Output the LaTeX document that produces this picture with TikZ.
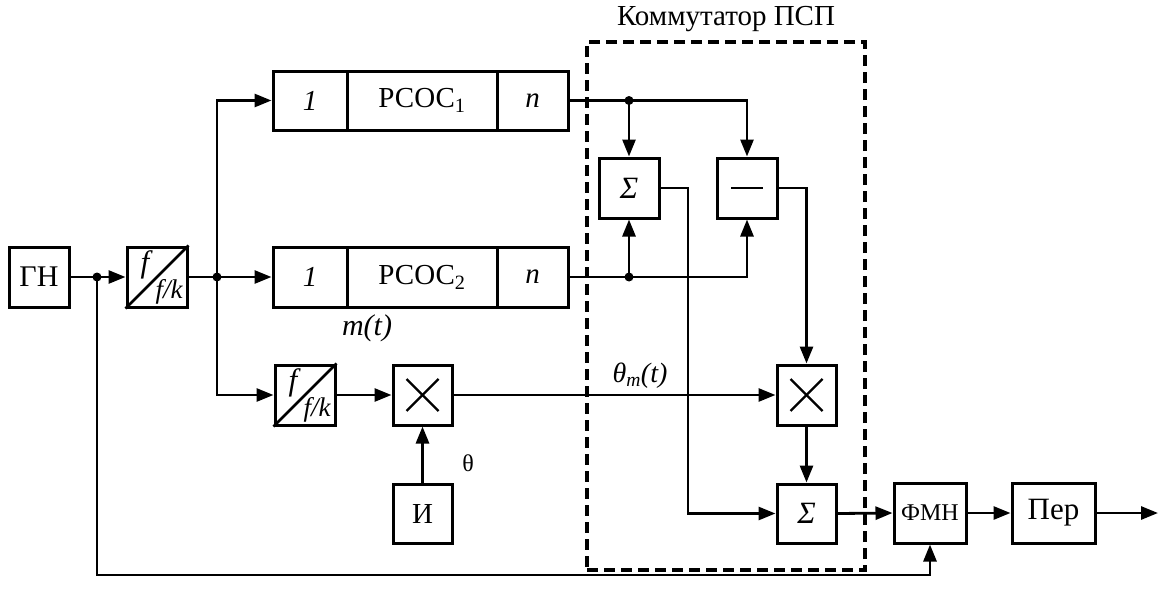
\documentclass[tikz,border=0pt]{standalone}
\usepackage{fontspec}
\setmainfont{Liberation Serif}
\usetikzlibrary{arrows.meta}
\tikzset{
  ln/.style={line width=2.8pt},
  arr/.style={ln,-{Triangle[length=17pt,width=13pt]}},
  blk/.style={draw,line width=3pt,inner sep=0pt,font=\fontsize{29}{32}\selectfont},
  sq/.style={blk,minimum width=60pt,minimum height=60pt},
  dot/.style={circle,fill=black,inner sep=0pt,minimum size=9pt},
}
\begin{document}
\begin{tikzpicture}[x=1pt,y=-1pt]
\useasboundingbox (0,0) rectangle (1161,602);
% dashed commutator frame
\node[draw,line width=3.6pt,dash pattern=on 11pt off 6pt,minimum width=278pt,minimum height=528pt,inner sep=0pt] (frame) at (726,306) {};
\node[font=\fontsize{29}{32}\selectfont] (title) at (726,19) {Коммутатор ПСП};
% blocks
\node[sq,font=\fontsize{30}{32}\selectfont] (gn) at (39,277) {ГН};
\node[sq] (div1) at (157,277) {};
\node[blk,minimum width=74pt,minimum height=59pt] (r1a) at (310,100.5) {\itshape 1};
\node[blk,minimum width=150pt,minimum height=59pt] (r1b) at (422,100.5) {РСОС\textsubscript{1}};
\node[blk,minimum width=71pt,minimum height=59pt] (r1c) at (532.5,100.5) {\itshape n};
\node[blk,minimum width=74pt,minimum height=60pt] (r2a) at (310,277) {\itshape 1};
\node[blk,minimum width=150pt,minimum height=60pt] (r2b) at (422,277) {РСОС\textsubscript{2}};
\node[blk,minimum width=71pt,minimum height=60pt] (r2c) at (532.5,277) {\itshape n};
\node[sq,font=\fontsize{31}{32}\selectfont] (s1) at (629,188) {\itshape Σ};
\node[sq] (mn) at (747,188) {};
\node[sq,minimum width=59pt] (mx2) at (806.5,395) {};
\node[sq,minimum width=59pt,minimum height=59pt,font=\fontsize{31}{32}\selectfont] (s2) at (806.5,513.5) {\itshape Σ};
\node[sq] (div2) at (305,395) {};
\node[sq,minimum width=59pt] (mx1) at (422.5,395) {};
\node[sq,minimum width=59pt,minimum height=59pt] (ii) at (422.5,513.5) {И};
\node[blk,minimum width=72pt,minimum height=60pt,font=\fontsize{24}{28}\selectfont] (fmn) at (930,513) {ФМН};
\node[blk,minimum width=83pt,minimum height=60pt,font=\fontsize{31}{32}\selectfont] (per) at (1053.5,513) {Пер};
% divider internals
\foreach \d in {div1,div2}{
  \draw[ln] (\d.south west) -- (\d.north east);
  \node[font=\fontsize{31}{32}\selectfont\itshape] at ([xshift=-12pt,yshift=12pt]\d.center) {f};
  \node[font=\fontsize{27}{30}\selectfont\itshape] at ([xshift=12pt,yshift=-15pt]\d.center) {f/k};
}
% multipliers and minus
\foreach \m in {mx1,mx2}{
  \draw[line width=2.4pt] ([xshift=-16pt,yshift=-16pt]\m.center) -- ([xshift=16pt,yshift=16pt]\m.center);
  \draw[line width=2.4pt] ([xshift=-16pt,yshift=16pt]\m.center) -- ([xshift=16pt,yshift=-16pt]\m.center);
}
\draw[line width=2.8pt] ([xshift=-16pt]mn.center) -- ([xshift=16pt]mn.center);
% junctions
\coordinate (j1) at (97,277);
\coordinate (j2) at (217,277);
\coordinate (j3) at (629,100.5);
\coordinate (j4) at (629,277);
\coordinate (k1) at (688,513.5);
\coordinate (fb) at (97,575);
\coordinate (out) at (1158,513);
\node[dot] (d1) at (j1) {};
\node[dot] (d2) at (j2) {};
\node[dot] (d3) at (j3) {};
\node[dot] (d4) at (j4) {};
% connectors
\draw[arr] (gn.east) -- (div1.west);
\draw[arr] (div1.east) -- (r2a.west);
\draw[arr] (j2) |- (r1a.west);
\draw[arr] (j2) |- (div2.west);
\draw[arr] (div2.east) -- (mx1.west);
\draw[arr] (ii.north) -- (mx1.south);
\draw[arr] (mx1.east) -- (mx2.west);
\draw[arr] (r1c.east) -| (mn.north);
\draw[arr] (j3) -- (s1.north);
\draw[arr] (r2c.east) -| (mn.south);
\draw[arr] (j4) -- (s1.south);
\draw[arr] (s1.east) -| (k1) -- (s2.west);
\draw[arr] (mn.east) -| (mx2.north);
\draw[arr] (mx2.south) -- (s2.north);
\draw[arr] (s2.east) -- (fmn.west);
\draw[arr] (fmn.east) -- (per.west);
\draw[arr] (per.east) -- (out);
\draw[arr] (j1) -- (fb) -| (fmn.south);
% labels
\node[font=\fontsize{30}{32}\selectfont\itshape] (mt) at (367,328) {m(t)};
\node[font=\fontsize{24}{28}\selectfont] (th) at (468,463) {θ};
\node[font=\fontsize{28}{30}\selectfont\itshape] (thm) at (640,376) {θ\textsubscript{m}(t)};
\end{tikzpicture}
\end{document}
